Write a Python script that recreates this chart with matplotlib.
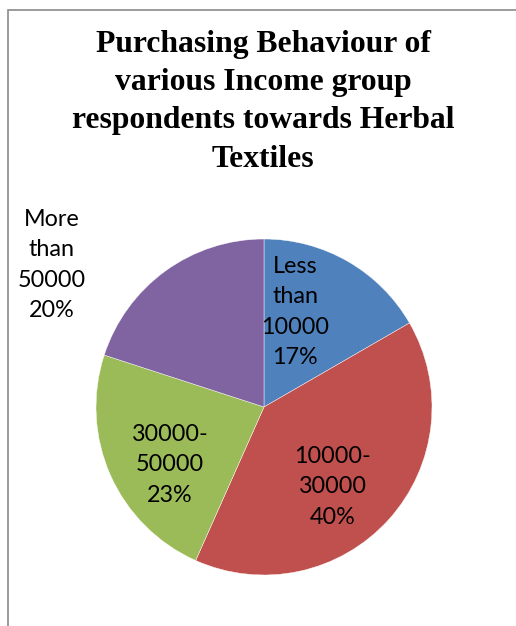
import matplotlib.pyplot as plt
from matplotlib.patches import Rectangle

# Income groups and respondent counts
groups = ["Less\nthan\n10000", "10000-\n30000", "30000-\n50000", "More\nthan\n50000"]
respondents = [25, 60, 35, 30]
colors = ["#4F81BD", "#C0504D", "#9BBB59", "#8064A2"]

# label anchor points, in pie radii from the centre
label_pos = [(0.185, 0.565), (0.41, -0.476), (-0.56, -0.345), (-1.262, 0.845)]

W, H = 516, 626
fig = plt.figure(figsize=(W / 100, H / 100), dpi=100)

# chart frame (runs off the right and bottom edges)
fig.patches.append(Rectangle((8 / W, -0.1), 1.2, (H - 10) / H + 0.1,
                             transform=fig.transFigure, fill=False,
                             edgecolor="#8a8a8a", linewidth=1.2))

# pie centre (264, 407) px, radius 168 px
r = 168
ax = fig.add_axes([(264 - r) / W, (H - 407 - r) / H, 2 * r / W, 2 * r / H])
ax.pie(respondents, colors=colors, startangle=90, counterclock=False,
       radius=1, wedgeprops=dict(edgecolor="white", linewidth=0.3))
ax.set_xlim(-1, 1)
ax.set_ylim(-1, 1)
ax.set_aspect("equal")
ax.axis("off")

total = sum(respondents)
for name, val, (x, y) in zip(groups, respondents, label_pos):
    pct = round(val / total * 100)
    ax.text(x, y, f"{name}\n{pct}%", ha="center", va="center",
            fontsize=16.8, family="Lato", linespacing=1.55, color="black")

fig.text(263 / W, 1 - 30 / H,
         "Purchasing Behaviour of\nvarious Income group\nrespondents towards Herbal\nTextiles",
         ha="center", va="top", fontsize=22.8, fontweight="bold",
         family="Liberation Serif", linespacing=1.42)

fig.savefig("out.png", dpi=100)
